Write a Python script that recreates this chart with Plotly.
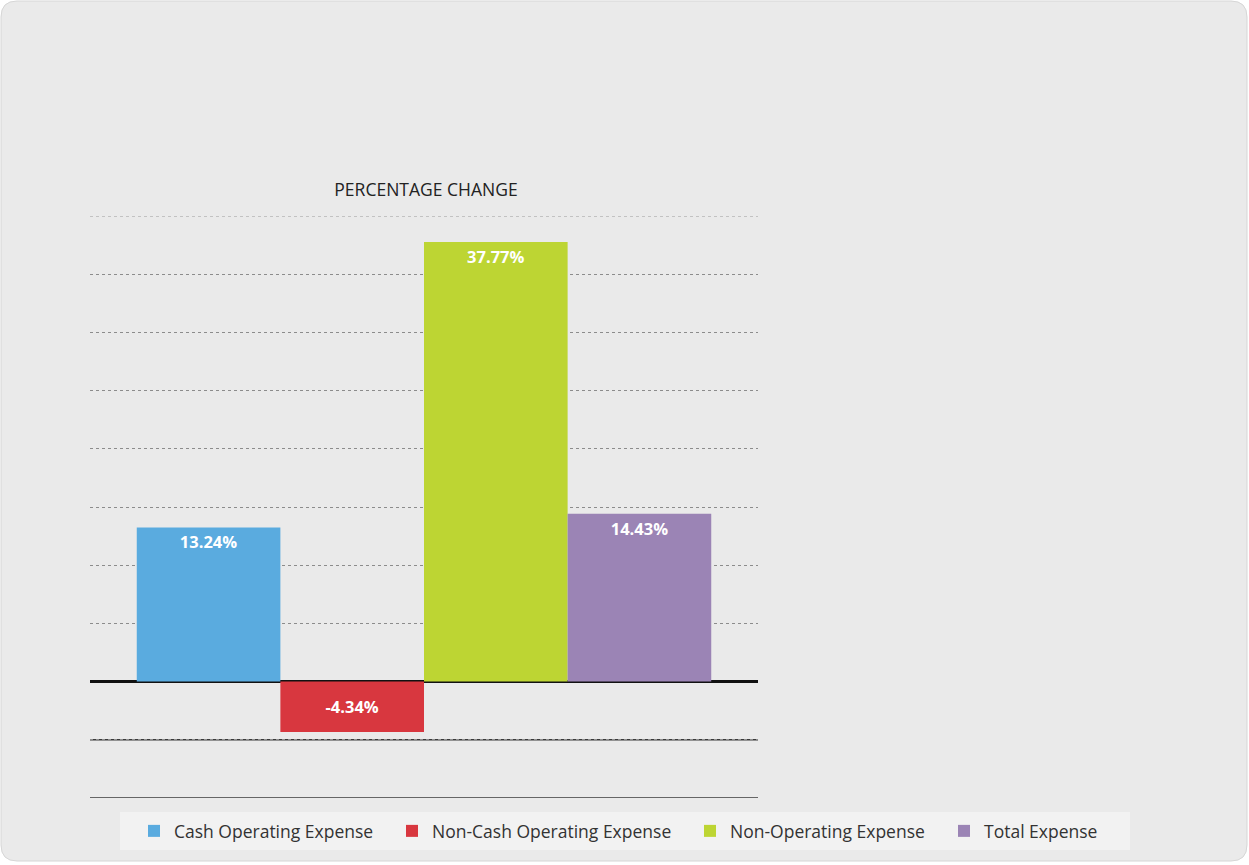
import plotly.graph_objects as go

categories = [""]
series_names = ["Cash Operating Expense", "Non-Cash Operating Expense", "Non-Operating Expense", "Total Expense"]
series_values = [13.24, -4.34, 37.77, 14.43]
series_colors = ["#5aabdf", "#d8373f", "#bdd533", "#9b84b5"]
y_ticks = [-10, -5, 0, 5, 10, 15, 20, 25, 30, 35, 40]
solid_grid = [-10, -5]
edge_grid = [40]

W, H = 1249, 865
L, R, T, B = 90, 491, 216, 67
PW, PH = W - L - R, H - T - B
legend_left_px = [134, 392, 690, 944]
legend_ids = ["legend", "legend2", "legend3", "legend4"]


def px_x(p):
    return (p - L) / PW


def px_y(p):
    return (H - B - p) / PH


fig = go.Figure()
for name, val, col, lg in zip(series_names, series_values, series_colors, legend_ids):
    fig.add_trace(go.Bar(
        x=categories, y=[val], name=name, legend=lg,
        marker=dict(color=col, line=dict(width=0)),
        text=[f"{val:.2f}%"], textposition="inside",
        insidetextanchor="end" if val >= 0 else "middle",
        textfont=dict(color="white", size=16.5, family="Open Sans"),
        texttemplate="<b>%{text}</b>",
        cliponaxis=False,
    ))

# rounded card background
x0, x1, y0, y1, r = 1, 1247, 1, 861, 16
card = (f"M {px_x(x0 + r)} {px_y(y0)} L {px_x(x1 - r)} {px_y(y0)} "
        f"Q {px_x(x1)} {px_y(y0)} {px_x(x1)} {px_y(y0 + r)} "
        f"L {px_x(x1)} {px_y(y1 - r)} Q {px_x(x1)} {px_y(y1)} {px_x(x1 - r)} {px_y(y1)} "
        f"L {px_x(x0 + r)} {px_y(y1)} Q {px_x(x0)} {px_y(y1)} {px_x(x0)} {px_y(y1 - r)} "
        f"L {px_x(x0)} {px_y(y0 + r)} Q {px_x(x0)} {px_y(y0)} {px_x(x0 + r)} {px_y(y0)} Z")
fig.add_shape(type="path", xref="paper", yref="paper", path=card,
              fillcolor="#eaeaea", line=dict(color="#d6d6d6", width=1), layer="below")
# legend panel
fig.add_shape(type="rect", xref="paper", yref="paper",
              x0=px_x(120), x1=px_x(1130), y0=px_y(850), y1=px_y(812),
              fillcolor="#f2f2f2", line=dict(width=0), layer="below")

for v in solid_grid:
    fig.add_shape(type="line", xref="paper", yref="y", x0=0, x1=1, y0=v, y1=v,
                  line=dict(color="#3a3a3a", width=1.5), layer="below")
for v in edge_grid:
    fig.add_shape(type="line", xref="paper", yref="y", x0=0, x1=1, y0=v, y1=v,
                  line=dict(color="#9a9a9a", width=1, dash="dot"), layer="below")

legend_style = dict(orientation="h", xref="paper", xanchor="left",
                    yref="paper", y=px_y(831), yanchor="middle",
                    bgcolor="rgba(0,0,0,0)",
                    font=dict(size=17.5, color="#333333", family="Open Sans"),
                    itemwidth=30)

fig.update_layout(
    width=W, height=H,
    margin=dict(l=L, r=R, t=T, b=B, autoexpand=False),
    paper_bgcolor="#ffffff", plot_bgcolor="rgba(0,0,0,0)",
    barmode="group", bargap=0.14, bargroupgap=0,
    font=dict(family="Open Sans", color="#333333"),
    title=dict(text="PERCENTAGE CHANGE", x=426 / W, xref="container", xanchor="center",
               y=1 - 190 / H, yref="container", yanchor="middle",
               font=dict(size=17.5, color="#222222", family="Open Sans")),
    xaxis=dict(showticklabels=False, showgrid=False, zeroline=False, showline=False),
    yaxis=dict(range=[-10, 40], tickvals=y_ticks, showticklabels=False,
               showgrid=True, gridcolor="#8c8c8c", griddash="dot", gridwidth=1,
               zeroline=True, zerolinecolor="#111111", zerolinewidth=2.5, showline=False),
    showlegend=True,
)
for lg, lx in zip(legend_ids, legend_left_px):
    fig.update_layout({lg: dict(legend_style, x=px_x(lx))})

fig.write_html("out.html")
